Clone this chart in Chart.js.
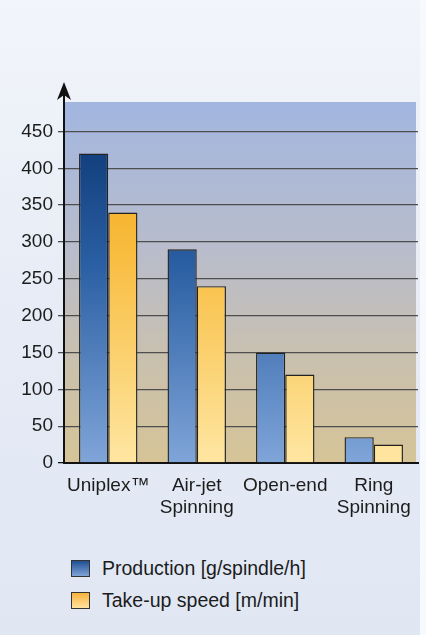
<!DOCTYPE html>
<html>
<head>
<meta charset="utf-8">
<script src="https://cdn.jsdelivr.net/npm/chart.js@4.4.1/dist/chart.umd.min.js"></script>
<style>
  html, body { margin: 0; padding: 0; }
  body {
    width: 426px; height: 635px; overflow: hidden; position: relative;
    background: linear-gradient(180deg, #f2f5fa 0%, #e7ecf6 45%, #e0e7f3 100%);
    font-family: "Liberation Sans", Arial, sans-serif;
  }
  #strip { position: absolute; right: 0; top: 0; width: 6px; height: 635px; background: #f8f9fc; }
  #wrap { position: absolute; left: 0; top: 0; width: 426px; height: 530px; }
  #legend { position: absolute; left: 71px; top: 560px; }
  .item { display: flex; align-items: center; height: 17px; margin-bottom: 15px; font-size: 19.5px; color: #1c1c1c; }
  .box { width: 19px; height: 17px; border: 1px solid #333; box-sizing: border-box; margin-right: 12px; }
</style>
</head>
<body>
<div id="strip"></div>
<div id="wrap"><canvas id="chart"></canvas></div>
<div id="legend"></div>
<script>
const categories = ['Uniplex™', ['Air-jet', 'Spinning'], 'Open-end', ['Ring', 'Spinning']];
const production = [420, 290, 150, 35];
const takeUp = [340, 240, 120, 25];
const yTicks = [0, 50, 100, 150, 200, 250, 300, 350, 400, 450];
const yMax = 490;
const seriesNames = ['Production [g/spindle/h]', 'Take-up speed [m/min]'];

const blueStops = [[0, '#08316c'], [0.45, '#2a5fa3'], [1, '#80a5d9']];
const yellowStops = [[0, '#f2a312'], [0.4, '#f8bb3c'], [1, '#fee6a2']];
const FONT = '"Liberation Sans", Arial, sans-serif';

function grad(ctx, stops) {
  const area = ctx.chart.chartArea;
  if (!area) return stops[1][1];
  const g = ctx.chart.ctx.createLinearGradient(0, area.top, 0, area.bottom);
  stops.forEach(s => g.addColorStop(s[0], s[1]));
  return g;
}

// plot background + y axis arrow
const decor = {
  id: 'decor',
  beforeDraw(chart) {
    const { ctx, chartArea: a } = chart;
    const g = ctx.createLinearGradient(0, a.top, 0, a.bottom);
    g.addColorStop(0, '#a2b6e0');
    g.addColorStop(0.4, '#b8bccc');
    g.addColorStop(0.75, '#cbc1ab');
    g.addColorStop(1, '#d6c497');
    ctx.save();
    ctx.fillStyle = g;
    ctx.fillRect(a.left, a.top, a.right - a.left - 2, a.bottom - a.top);
    ctx.restore();
  },
  afterDraw(chart) {
    const { ctx, chartArea: a } = chart;
    ctx.save();
    ctx.strokeStyle = '#111';
    ctx.lineWidth = 2;
    ctx.beginPath();
    ctx.moveTo(a.left, a.top);
    ctx.lineTo(a.left, 94);
    ctx.stroke();
    ctx.fillStyle = '#111';
    ctx.beginPath();
    ctx.moveTo(a.left, 82);
    ctx.lineTo(a.left + 7, 100);
    ctx.lineTo(a.left, 95);
    ctx.lineTo(a.left - 7, 100);
    ctx.closePath();
    ctx.fill();
    ctx.restore();
  }
};

const chart = new Chart(document.getElementById('chart'), {
  type: 'bar',
  data: {
    labels: categories,
    datasets: [
      {
        label: seriesNames[0],
        data: production,
        backgroundColor: ctx => grad(ctx, blueStops),
        borderColor: '#222',
        borderWidth: 1.4,
      },
      {
        label: seriesNames[1],
        data: takeUp,
        backgroundColor: ctx => grad(ctx, yellowStops),
        borderColor: '#222',
        borderWidth: 1.4,
      }
    ]
  },
  options: {
    responsive: true,
    maintainAspectRatio: false,
    animation: false,
    datasets: { bar: { barPercentage: 1.0, categoryPercentage: 0.66 } },
    layout: { padding: { top: 102, right: 8, left: 0, bottom: 0 } },
    plugins: { legend: { display: false }, tooltip: { enabled: false } },
    scales: {
      x: {
        grid: { display: false },
        border: { display: true, color: '#111', width: 2 },
        ticks: {
          color: '#1c1c1c',
          font: { family: FONT, size: 19, lineHeight: 1.15 },
          padding: 4,
          maxRotation: 0,
          autoSkip: false,
        },
        afterFit(s) { s.height = 67; }
      },
      y: {
        min: 0,
        max: yMax,
        afterBuildTicks(s) { s.ticks = yTicks.map(v => ({ value: v })); },
        grid: {
          color: ctx => ctx.tick && ctx.tick.value === 0 ? '#111' : '#4e4e4e',
          lineWidth: 1.3,
          tickLength: 6,
        },
        border: { display: true, color: '#111', width: 2 },
        ticks: {
          color: '#1c1c1c',
          font: { family: FONT, size: 19 },
          padding: 5,
        },
        afterFit(s) { s.width = 64; }
      }
    }
  },
  plugins: [decor]
});

// legend below the chart
const legend = document.getElementById('legend');
const boxBg = [
  'linear-gradient(180deg, #1f4f92, #7fa4d8)',
  'linear-gradient(180deg, #f6b23a, #fee3a0)'
];
seriesNames.forEach((name, i) => {
  const item = document.createElement('div');
  item.className = 'item';
  const box = document.createElement('div');
  box.className = 'box';
  box.style.background = boxBg[i];
  const txt = document.createElement('span');
  txt.textContent = name;
  item.appendChild(box);
  item.appendChild(txt);
  legend.appendChild(item);
});
</script>
</body>
</html>
